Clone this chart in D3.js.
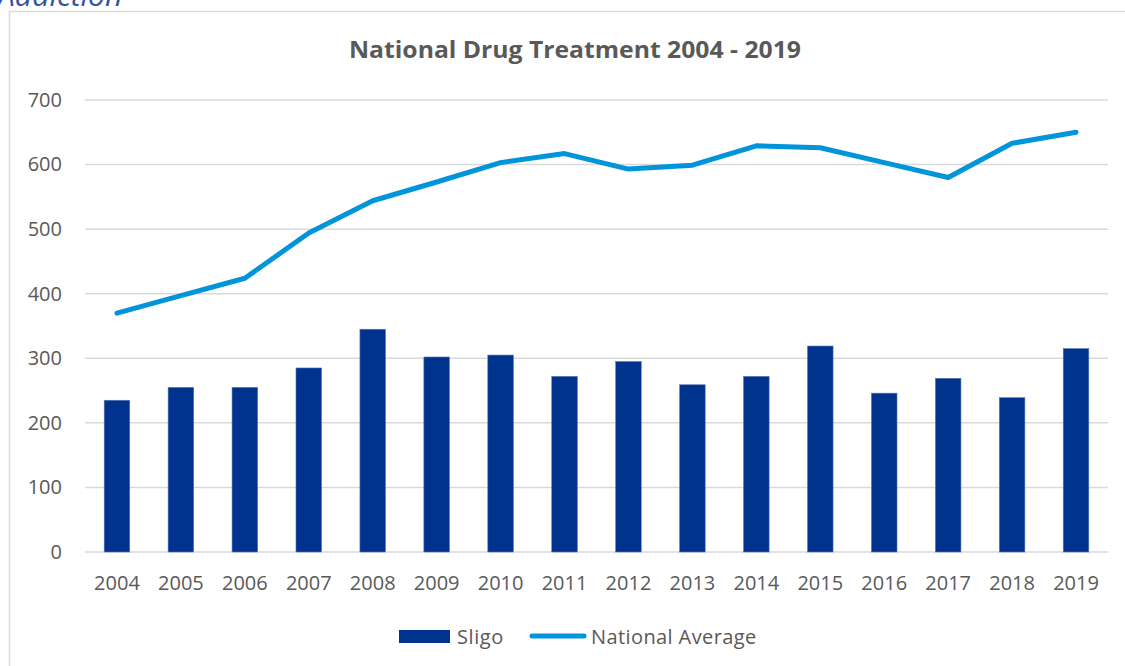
<!DOCTYPE html>
<html>
<head>
<meta charset="utf-8">
<script src="https://cdn.jsdelivr.net/npm/d3@7"></script>
<style>
  html, body { margin: 0; padding: 0; background: #fff; }
  svg { display: block; font-family: "Open Sans", "Liberation Sans", sans-serif; }
</style>
</head>
<body>
<svg id="chart" width="1125" height="666"></svg>
<script>
// Years on the category axis
const years = ["2004","2005","2006","2007","2008","2009","2010","2011",
               "2012","2013","2014","2015","2016","2017","2018","2019"];
// Sligo treatment figures (bars)
const sligo = [235, 255, 255, 285, 345, 302, 305, 272, 295, 259, 272, 319, 246, 269, 239, 315];
// National average (line)
const nationalAverage = [370, 397, 424, 494, 544, 573, 603, 617, 593, 599, 629, 626, 603, 580, 633, 650];
// Value-axis ticks
const yTicks = [0, 100, 200, 300, 400, 500, 600, 700];

const svg = d3.select("#chart");
const textGrey = "#595959";
const gridGrey = "#D9D9D9";
const barColor = "#00338D";
const lineColor = "#0094DA";

// Heading fragment running off the top edge
svg.append("text")
  .attr("x", -2).attr("y", 6)
  .attr("fill", "#2F55A4")
  .attr("font-size", 30)
  .attr("font-style", "italic")
  .text("Addiction");

// Chart frame
svg.append("path")
  .attr("d", "M9.5,666 V11.5 H1125")
  .attr("fill", "none")
  .attr("stroke", gridGrey)
  .attr("stroke-width", 1.5);

const x = d3.scaleBand()
  .domain(years)
  .range([85, 1108])
  .paddingInner(0.6)
  .paddingOuter(0.3);

const y = d3.scaleLinear().domain([0, 700]).range([552, 100]);

// Gridlines
svg.append("g")
  .selectAll("line")
  .data(yTicks)
  .join("line")
  .attr("x1", 85).attr("x2", 1108)
  .attr("y1", d => y(d)).attr("y2", d => y(d))
  .attr("stroke", gridGrey)
  .attr("stroke-width", 1.5);

// Value axis labels
const yAxis = d3.axisLeft(y).tickValues(yTicks).tickSize(0).tickPadding(0);
const yg = svg.append("g").attr("transform", "translate(62,0)").call(yAxis);
yg.select(".domain").remove();
yg.selectAll("text")
  .attr("fill", textGrey)
  .attr("font-size", 20)
  .attr("font-family", "Open Sans");

// Category axis labels
const xAxis = d3.axisBottom(x).tickSize(0).tickPadding(0);
const xg = svg.append("g").attr("transform", "translate(0,576)").call(xAxis);
xg.select(".domain").remove();
xg.selectAll("text")
  .attr("fill", textGrey)
  .attr("font-size", 20)
  .attr("font-family", "Open Sans");

// Sligo bars
svg.append("g")
  .selectAll("rect")
  .data(sligo)
  .join("rect")
  .attr("x", (d, i) => x(years[i]))
  .attr("width", x.bandwidth())
  .attr("y", d => y(d))
  .attr("height", d => y(0) - y(d))
  .attr("fill", barColor)
  .attr("stroke", "#5a78b5")
  .attr("stroke-width", 0.6);

// National average line
const line = d3.line()
  .x((d, i) => x(years[i]) + x.bandwidth() / 2)
  .y(d => y(d));

svg.append("path")
  .datum(nationalAverage)
  .attr("d", line)
  .attr("fill", "none")
  .attr("stroke", lineColor)
  .attr("stroke-width", 5)
  .attr("stroke-linejoin", "round")
  .attr("stroke-linecap", "round");

// Title
svg.append("text")
  .attr("x", 575).attr("y", 58)
  .attr("text-anchor", "middle")
  .attr("fill", textGrey)
  .attr("font-size", 24)
  .attr("font-weight", "bold")
  .attr("textLength", 452)
  .attr("lengthAdjust", "spacingAndGlyphs")
  .text("National Drug Treatment 2004 - 2019");

// Legend
const legend = svg.append("g").attr("font-size", 20).attr("fill", textGrey);
legend.append("rect")
  .attr("x", 399).attr("y", 630).attr("width", 51).attr("height", 13)
  .attr("fill", barColor);
legend.append("text").attr("x", 457).attr("y", 644)
  .attr("letter-spacing", 0.6).text("Sligo");
legend.append("line")
  .attr("x1", 532).attr("x2", 584).attr("y1", 636).attr("y2", 636)
  .attr("stroke", lineColor).attr("stroke-width", 5).attr("stroke-linecap", "round");
legend.append("text").attr("x", 591).attr("y", 644)
  .attr("letter-spacing", 0.4).text("National Average");
</script>
</body>
</html>
